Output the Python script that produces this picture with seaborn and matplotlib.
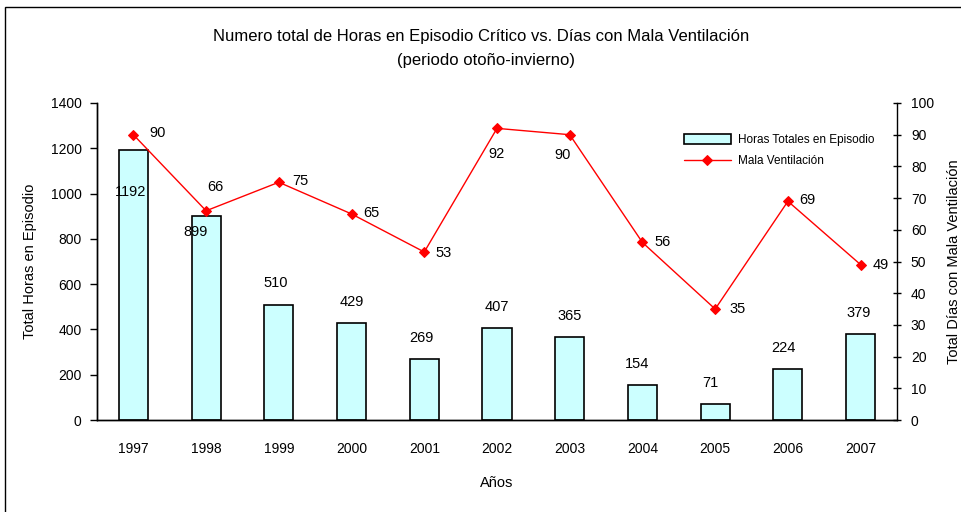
import numpy as np
import pandas as pd
import matplotlib
matplotlib.use("Agg")
import matplotlib.pyplot as plt
import seaborn as sns
from matplotlib.patches import Rectangle

# data
years = ["1997", "1998", "1999", "2000", "2001", "2002", "2003", "2004", "2005", "2006", "2007"]
horas = [1192, 899, 510, 429, 269, 407, 365, 154, 71, 224, 379]
dias = [90, 66, 75, 65, 53, 92, 90, 56, 35, 69, 49]

# label offsets in pixels (hand placed like the original)
bar_off = [(-3, -42), (-11, -16), (-3, 22), (0, 21), (-3, 21), (0, 21), (0, 21), (-5, 21), (-5, 21), (-4, 21), (-2, 21)]
line_off = [(24, 2), (9, 24), (22, 1), (20, 1), (19, -1), (0, -26), (-7, -20), (20, 0), (22, 0), (19, 1), (20, 0)]

df = pd.DataFrame({"year": years, "horas": horas, "dias": dias, "pos": np.arange(len(years))})

sns.set_style("white")
plt.rcParams["font.family"] = ["Liberation Sans", "DejaVu Sans"]
plt.rcParams.update({"text.color": "black", "axes.labelcolor": "black",
                     "xtick.color": "black", "ytick.color": "black"})

fig = plt.figure(figsize=(9.62, 5.12), dpi=100)
ax = fig.add_axes([97 / 962, 92 / 512, 800 / 962, 317 / 512])

sns.barplot(data=df, x="year", y="horas", color="#CCFFFF", edgecolor="black",
            linewidth=1.2, width=0.4, saturation=1, ax=ax)

ax2 = ax.twinx()
sns.lineplot(data=df, x="pos", y="dias", color="red", marker="D", markersize=5,
             markeredgecolor="red", linewidth=1, ax=ax2)

ax.set_xlim(-0.5, len(years) - 0.5)
ax.set_ylim(0, 1400)
ax.set_yticks(range(0, 1401, 200))
ax2.set_ylim(0, 100)
ax2.set_yticks(range(0, 101, 10))

# x ticks between categories, labels centred
ax.set_xticks(np.arange(len(years)))
ax.set_xticklabels(years)
ax.set_xticks(np.arange(-0.5, len(years)), minor=True)
ax.tick_params(axis="x", which="major", length=0, pad=16, labelsize=10)
ax.tick_params(axis="x", which="minor", length=5, width=1, direction="out", color="black")
ax.tick_params(axis="y", length=5, width=1, direction="out", color="black", labelsize=10, pad=6, left=True)
ax2.tick_params(axis="y", length=6, width=1, direction="inout", color="black", labelsize=10, pad=7, right=True)

for a in (ax, ax2):
    for s in ["left", "bottom", "right"]:
        a.spines[s].set_color("black")
        a.spines[s].set_linewidth(1)
    a.spines["top"].set_visible(False)
    a.grid(False)
ax.spines["right"].set_visible(False)

ax.set_xlabel("Años", fontsize=10.5, labelpad=14)
ax.set_ylabel("Total Horas en Episodio", fontsize=10.5, labelpad=10)
ax2.set_ylabel("Total Días con Mala Ventilación", fontsize=10.5, labelpad=9)

for i, v in enumerate(horas):
    ax.annotate(str(v), (i, v), xytext=bar_off[i], textcoords="offset pixels",
                ha="center", va="center", fontsize=10.5)
for i, v in enumerate(dias):
    ax2.annotate(str(v), (i, v), xytext=line_off[i], textcoords="offset pixels",
                 ha="center", va="center", fontsize=10.5)

handles = [ax.patches[0], ax2.lines[0]]
ax2.legend(handles, ["Horas Totales en Episodio", "Mala Ventilación"], loc="upper right",
           bbox_to_anchor=(0.985, 0.935), frameon=False, fontsize=8.5, handlelength=4,
           handleheight=0.9, labelspacing=0.75, handletextpad=0.6)

fig.text(0.5, 1 - 37 / 512, "Numero total de Horas en Episodio Crítico vs. Días con Mala Ventilación",
         ha="center", va="center", fontsize=12)
fig.text(0.505, 1 - 60 / 512, "(periodo otoño-invierno)", ha="center", va="center", fontsize=12)

# outer chart frame
fig.patches.append(Rectangle((5 / 962, -0.1), 1.2, 1.1 - 7 / 512, transform=fig.transFigure,
                             fill=False, edgecolor="black", linewidth=1))

fig.savefig("out.png", dpi=100)
